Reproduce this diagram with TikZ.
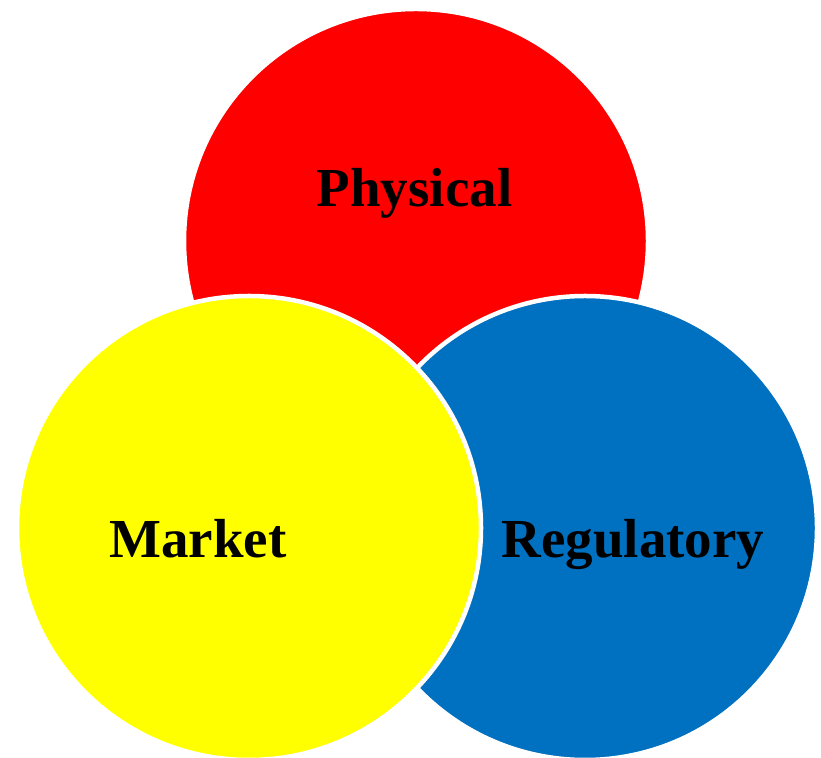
\documentclass[tikz,border=0pt]{standalone}
\usepackage{fontspec}
\setmainfont{Liberation Serif}
\usepackage{tikz}
\usetikzlibrary{positioning}
\definecolor{physred}{HTML}{FF0000}
\definecolor{marketyellow}{HTML}{FFFF00}
\definecolor{regblue}{HTML}{0070C0}
\tikzset{
    Circle/.style = {circle, draw=white, line width=4.5pt, minimum size=464pt, inner sep=0pt}
}
\tikzset{
    Label/.style = {anchor=base, text=black, inner sep=0pt, font=\fontsize{55}{60}\selectfont\bfseries}
}

\begin{document}
\begin{tikzpicture}[
    x=1pt, y=1pt
]
\useasboundingbox (0,0) rectangle (821,757);
\node[Circle, fill=physred] at (416,516) (phys) {};
\node[Circle, fill=regblue] at (585,229) (reg) {};
\node[Circle, fill=marketyellow] at (249,229) (mkt) {};
\node[Label] at (414.5,550) (physlbl) {Physical};
\node[Label] at (198,199) (mktlbl) {Market};
\node[Label] at (633,199) (reglbl) {Regulatory};
\end{tikzpicture}
\end{document}
